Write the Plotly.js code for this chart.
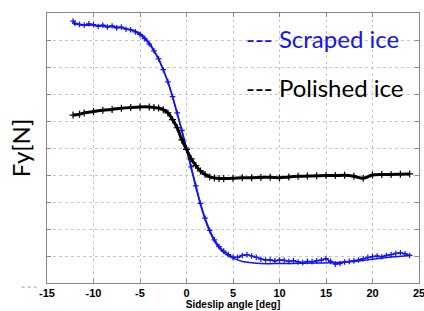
<!DOCTYPE html>
<html>
<head>
<meta charset="utf-8">
<script src="https://cdn.plot.ly/plotly-3.0.1.min.js"></script>
<style>html,body{margin:0;padding:0;background:#fff;}#chart{width:424px;height:311px;}</style>
</head>
<body>
<div id="chart"></div>
<script>
// Scraped ice: smooth fit curve
const scrapedFitX = [-12.2,-11,-10,-9,-8,-7,-6,-5,-4.5,-4,-3.5,-3,-2.5,-2,-1.5,-1,-0.5,0,0.5,1,1.5,2,2.5,3,3.5,4,5,6,7,8,10,12,14,16,18,20,22,24];
const scrapedFitY = [9.6,9.55,9.55,9.52,9.5,9.45,9.38,9.25,9.1,8.9,8.62,8.3,7.9,7.45,6.9,6.3,5.65,4.95,4.25,3.55,2.9,2.35,1.9,1.55,1.3,1.12,0.92,0.8,0.75,0.72,0.72,0.73,0.74,0.76,0.8,0.88,0.96,1.02];
// Scraped ice: measured points
const scrapedX = [-12.2,-12,-11.5,-11,-10.5,-10,-9.5,-9,-8.5,-8,-7.5,-7,-6.5,-6,-5.5,-5,-4.5,-4,-3.5,-3,-2.5,-2,-1.5,-1,-0.5,0,0.5,1,1.5,2,2.5,3,3.5,4,4.5,5,5.5,6,6.5,7,7.5,8,8.5,9,9.5,10,10.5,11,11.5,12,12.5,13,13.5,14,14.5,15,15.5,16,16.5,17,17.5,18,18.5,19,19.5,20,20.5,21,21.5,22,22.5,23,23.5,24];
const scrapedY = [9.7,9.62,9.58,9.55,9.6,9.57,9.5,9.55,9.48,9.52,9.45,9.48,9.4,9.38,9.3,9.2,9.05,8.85,8.6,8.3,7.9,7.45,6.9,6.3,5.65,5.0,4.3,3.6,2.95,2.4,1.95,1.6,1.35,1.18,1.05,0.95,0.95,1.02,1.05,1.0,0.95,0.88,0.85,0.86,0.82,0.85,0.84,0.8,0.83,0.78,0.76,0.8,0.79,0.82,0.85,0.9,0.8,0.7,0.72,0.78,0.8,0.82,0.85,0.9,0.95,0.98,1.0,0.97,1.02,1.05,1.1,1.12,1.08,1.02];
// Polished ice: measured points
const polishedX = [-12.2,-11.5,-11,-10,-9,-8,-7,-6,-5,-4,-3.5,-3,-2.5,-2,-1.5,-1,-0.5,0,0.5,1,1.5,2,2.5,3,3.5,4,5,6,7,8,9,10,11,12,13,14,15,16,17,18,19,20,21,22,23,24];
const polishedY = [6.22,6.25,6.3,6.35,6.4,6.43,6.47,6.5,6.52,6.52,6.5,6.48,6.42,6.3,6.05,5.75,5.3,4.95,4.6,4.35,4.15,4.02,3.93,3.89,3.87,3.87,3.88,3.9,3.9,3.91,3.92,3.9,3.93,3.95,3.96,3.97,3.98,3.98,3.99,3.95,3.88,4.0,4.02,4.02,4.03,4.04];
const xTicks = [-15,-10,-5,0,5,10,15,20,25];
const legendTexts = ['--- Scraped ice','--- Polished ice'];

const blue = '#1414f0';
const traces = [
  {x: scrapedFitX, y: scrapedFitY, mode: 'lines', line: {color: blue, width: 1.5, shape: 'spline'}, hoverinfo: 'skip'},
  {x: scrapedX, y: scrapedY, mode: 'lines+markers', line: {color: blue, width: 1.5},
   marker: {symbol: 'cross-thin-open', size: 4, color: blue, line: {color: blue, width: 1.2}}},
  {x: polishedX, y: polishedY, mode: 'lines+markers', line: {color: '#000', width: 3, shape: 'spline'},
   marker: {symbol: 'cross-thin-open', size: 5, color: '#000', line: {color: '#000', width: 1.2}}}
];

const layout = {
  width: 424, height: 311,
  margin: {l: 47, r: 5, t: 13, b: 28},
  paper_bgcolor: '#fff', plot_bgcolor: '#fff',
  showlegend: false,
  font: {family: 'Liberation Sans, Arial, sans-serif', color: '#000'},
  xaxis: {
    range: [-15, 25], tickvals: xTicks, ticktext: xTicks.map(String),
    showgrid: true, gridcolor: '#c8c8c8', griddash: 'dot', gridwidth: 1,
    zeroline: false, showline: true, linecolor: '#888', linewidth: 1, mirror: 'ticks',
    ticks: 'inside', ticklen: 4, tickcolor: '#888', ticklabeloverflow: 'allow',
    tickfont: {size: 11, weight: 'bold', family: 'Liberation Sans, Arial, sans-serif'},
    title: {text: 'Sideslip angle [deg]', font: {size: 10, weight: 'bold'}, standoff: 2}
  },
  yaxis: {
    range: [0, 10], dtick: 1, showticklabels: false,
    showgrid: true, gridcolor: '#c8c8c8', griddash: 'dot', gridwidth: 1,
    zeroline: false, showline: true, linecolor: '#888', linewidth: 1, mirror: 'ticks',
    ticks: 'inside', ticklen: 4, tickcolor: '#888',
    title: {text: 'Fy[N]', font: {size: 24, family: 'Lato, Noto Sans, sans-serif'}, standoff: 8}
  },
  annotations: [
    {xref: 'paper', yref: 'paper', x: 0.53, y: 0.904, xanchor: 'left', yanchor: 'middle', showarrow: false,
     text: legendTexts[0], font: {size: 24, color: blue, family: 'Lato, Noto Sans, sans-serif'}},
    {xref: 'paper', yref: 'paper', x: 0.53, y: 0.724, xanchor: 'left', yanchor: 'middle', showarrow: false,
     text: legendTexts[1], font: {size: 24, color: '#000', family: 'Lato, Noto Sans, sans-serif'}}
  ],
  shapes: [
    {type: 'line', xref: 'paper', yref: 'paper', x0: -0.068, x1: -0.02, y0: -0.015, y1: -0.015,
     line: {color: '#999', width: 1, dash: 'dot'}}
  ]
};

Plotly.newPlot('chart', traces, layout, {displayModeBar: false, staticPlot: true});
</script>
</body>
</html>
